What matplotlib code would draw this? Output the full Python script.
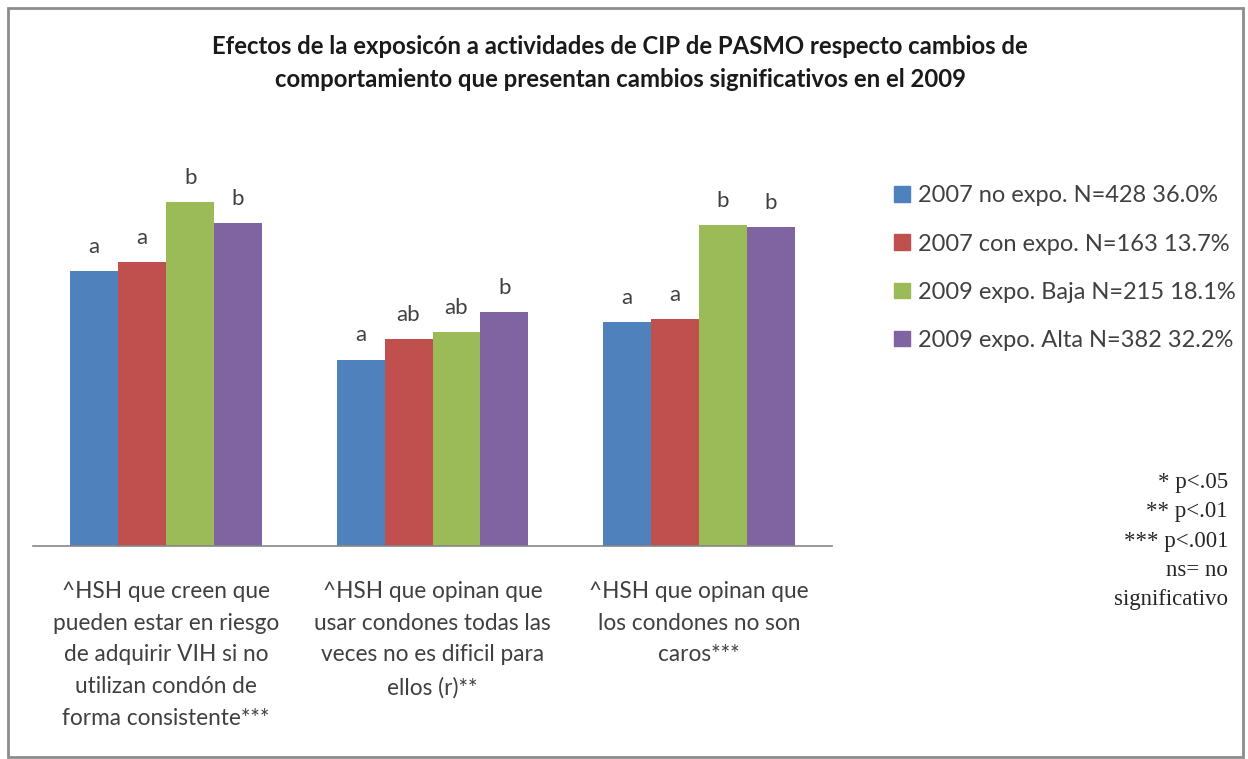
import numpy as np
import matplotlib.pyplot as plt
from matplotlib.patches import Rectangle, Patch

# Datos (valores estimados a partir del gráfico)
categorias = [
    "^HSH que creen que\npueden estar en riesgo\nde adquirir VIH si no\nutilizan condón de\nforma consistente***",
    "^HSH que opinan que\nusar condones todas las\nveces no es dificil para\nellos (r)**",
    "^HSH que opinan que\nlos condones no son\ncaros***",
]
series = [
    "2007 no expo. N=428 36.0%",
    "2007 con expo. N=163 13.7%",
    "2009 expo. Baja N=215 18.1%",
    "2009 expo. Alta N=382 32.2%",
]
no_expo_2007 = [59.2, 40.1, 48.1]
con_expo_2007 = [61.1, 44.6, 48.8]
baja_2009 = [74.0, 46.0, 69.0]
alta_2009 = [69.4, 50.3, 68.5]
letras = [
    ["a", "a", "b", "b"],
    ["a", "ab", "ab", "b"],
    ["a", "a", "b", "b"],
]
notas = "* p<.05\n** p<.01\n*** p<.001\nns= no\nsignificativo"

colores = ["#4F81BD", "#C0504D", "#9BBB59", "#8064A2"]
texto = "#404040"

plt.rcParams['font.family'] = ['Lato', 'DejaVu Sans']

fig = plt.figure(figsize=(12.48, 7.59), dpi=100)
W, H = 1248, 759
ax = fig.add_axes([33 / W, 1 - 546 / H, (832 - 33) / W, (546 - 150) / H])

valores = [no_expo_2007, con_expo_2007, baja_2009, alta_2009]
x = np.arange(len(categorias))
ancho = 0.18
for i, (vals, col) in enumerate(zip(valores, colores)):
    pos = x + (i - 1.5) * ancho
    ax.bar(pos, vals, width=ancho, color=col, label=series[i])
    for j, (p, v) in enumerate(zip(pos, vals)):
        ax.annotate(letras[j][i], (p, v), xytext=(0, 13), textcoords='offset points',
                    ha='center', va='baseline', fontsize=16, color=texto)

ax.set_xlim(-0.5, 2.5)
ax.set_ylim(0, 396 / 4.65)
ax.set_yticks([])
ax.set_xticks(x)
ax.set_xticklabels(categorias, fontsize=16.3, color=texto, linespacing=1.64)
ax.tick_params(axis='x', length=0, pad=25)
for s in ['top', 'right', 'left']:
    ax.spines[s].set_visible(False)
ax.spines['bottom'].set_color('#868686')
ax.spines['bottom'].set_linewidth(1.2)

fig.text(0.497, 1 - 63 / H,
         "Efectos de la exposicón a actividades de CIP de PASMO respecto cambios de\n"
         "comportamiento que presentan cambios significativos en el 2009",
         ha='center', va='center', fontsize=17.2, fontweight='bold', color='#1a1a1a',
         linespacing=1.5)

handles = [Patch(color=c) for c in colores]
fig.legend(handles, series, loc='upper left', bbox_to_anchor=(885 / W, 1 - 176 / H),
           frameon=False, fontsize=17, labelcolor=texto, handlelength=0.65,
           handleheight=0.65, handletextpad=0.35, labelspacing=1.15, borderaxespad=0)

fig.text(1228 / W, 1 - 472 / H, notas, ha='right', va='top', fontsize=16.5,
         family=['Liberation Serif'], color='#262626', linespacing=1.52)

fig.patches.append(Rectangle((8 / W, 2 / H), 1235 / W, 749 / H, transform=fig.transFigure,
                             fill=False, edgecolor='#8c8c8c', linewidth=2))

fig.savefig('out.png', dpi=100)
